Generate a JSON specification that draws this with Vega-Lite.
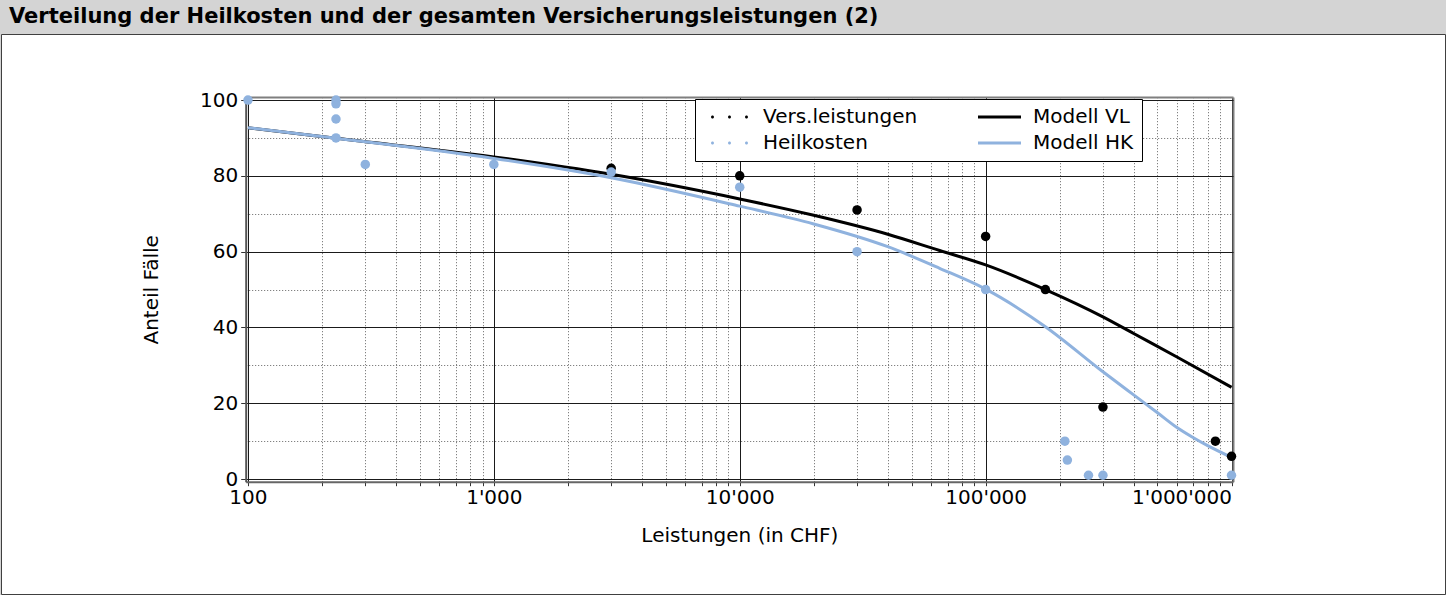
{
  "$schema": "https://vega.github.io/schema/vega-lite/v6.json",
  "width": 1444,
  "height": 560,
  "autosize": "none",
  "padding": {"left": 1, "top": 34, "right": 1, "bottom": 1},
  "background": "#d4d4d4",
  "title": {
    "text": "Verteilung der Heilkosten und der gesamten Versicherungsleistungen (2)",
    "anchor": "start",
    "frame": "group",
    "font": "DejaVu Sans",
    "fontSize": 21,
    "fontWeight": "bold",
    "color": "black",
    "offset": -4,
    "baseline": "middle",
    "dx": 8
  },
  "config": {
    "view": {"fill": "white", "stroke": "#404040", "strokeWidth": 1},
    "font": "DejaVu Sans",
    "axis": {"labelFont": "DejaVu Sans", "titleFont": "DejaVu Sans", "labelColor": "black", "titleColor": "black", "titleFontWeight": "normal"},
    "legend": {"labelFont": "DejaVu Sans"}
  },
  "datasets": {
    "points": [
      {"series": "Vers.leistungen", "x": 3000, "y": 82},
      {"series": "Vers.leistungen", "x": 10000, "y": 80},
      {"series": "Vers.leistungen", "x": 30000, "y": 71},
      {"series": "Vers.leistungen", "x": 100000, "y": 64},
      {"series": "Vers.leistungen", "x": 175000, "y": 50},
      {"series": "Vers.leistungen", "x": 300000, "y": 19},
      {"series": "Vers.leistungen", "x": 860000, "y": 10},
      {"series": "Vers.leistungen", "x": 1000000, "y": 6},
      {"series": "Heilkosten", "x": 100, "y": 100},
      {"series": "Heilkosten", "x": 228, "y": 100},
      {"series": "Heilkosten", "x": 228, "y": 99},
      {"series": "Heilkosten", "x": 228, "y": 95},
      {"series": "Heilkosten", "x": 228, "y": 90},
      {"series": "Heilkosten", "x": 300, "y": 83},
      {"series": "Heilkosten", "x": 1000, "y": 83},
      {"series": "Heilkosten", "x": 3000, "y": 81},
      {"series": "Heilkosten", "x": 10000, "y": 77},
      {"series": "Heilkosten", "x": 30000, "y": 60},
      {"series": "Heilkosten", "x": 100000, "y": 50},
      {"series": "Heilkosten", "x": 210000, "y": 10},
      {"series": "Heilkosten", "x": 215000, "y": 5},
      {"series": "Heilkosten", "x": 262000, "y": 1},
      {"series": "Heilkosten", "x": 300000, "y": 1},
      {"series": "Heilkosten", "x": 1000000, "y": 1}
    ],
    "model": [
      {"series": "Modell VL", "x": 100, "y": 92.7},
      {"series": "Modell VL", "x": 228, "y": 89.9},
      {"series": "Modell VL", "x": 1000, "y": 85.0},
      {"series": "Modell VL", "x": 3000, "y": 80.4},
      {"series": "Modell VL", "x": 10000, "y": 73.9},
      {"series": "Modell VL", "x": 20000, "y": 69.6},
      {"series": "Modell VL", "x": 40000, "y": 64.6},
      {"series": "Modell VL", "x": 65000, "y": 60.3},
      {"series": "Modell VL", "x": 100000, "y": 56.5},
      {"series": "Modell VL", "x": 175000, "y": 50.0},
      {"series": "Modell VL", "x": 300000, "y": 42.8},
      {"series": "Modell VL", "x": 400000, "y": 38.4},
      {"series": "Modell VL", "x": 600000, "y": 32.2},
      {"series": "Modell VL", "x": 1000000, "y": 24.2},
      {"series": "Modell HK", "x": 100, "y": 92.7},
      {"series": "Modell HK", "x": 228, "y": 89.9},
      {"series": "Modell HK", "x": 1000, "y": 84.6},
      {"series": "Modell HK", "x": 3000, "y": 79.5},
      {"series": "Modell HK", "x": 10000, "y": 72.0},
      {"series": "Modell HK", "x": 20000, "y": 67.3},
      {"series": "Modell HK", "x": 40000, "y": 61.3},
      {"series": "Modell HK", "x": 65000, "y": 55.6},
      {"series": "Modell HK", "x": 100000, "y": 50.1},
      {"series": "Modell HK", "x": 175000, "y": 40.2},
      {"series": "Modell HK", "x": 300000, "y": 28.3},
      {"series": "Modell HK", "x": 400000, "y": 22.2},
      {"series": "Modell HK", "x": 500000, "y": 17.5},
      {"series": "Modell HK", "x": 600000, "y": 13.6},
      {"series": "Modell HK", "x": 700000, "y": 10.9},
      {"series": "Modell HK", "x": 800000, "y": 8.8},
      {"series": "Modell HK", "x": 1000000, "y": 5.7}
    ]
  },
  "encoding": {
    "y": {
      "field": "y",
      "type": "quantitative",
      "scale": {"domain": [-0.7, 100.8], "range": [447.7, 63], "nice": false, "zero": false},
      "axis": {
        "title": "Anteil Fälle",
        "orient": "left",
        "offset": -244.7,
        "values": [0, 10, 20, 30, 40, 50, 60, 70, 80, 90, 100, 100.8],
        "labelExpr": "datum.value % 20 == 0 && datum.value <= 100 ? datum.label : ''",
        "labelFontSize": 20,
        "labelPadding": 3,
        "labelOverlap": false,
        "labelFlush": false,
        "labelBound": false,
        "tickSize": 5,
        "tickColor": "#333333",
        "tickOpacity": {"condition": {"test": "datum.value % 20 == 0 && datum.value <= 100", "value": 1}, "value": 0},
        "grid": true,
        "gridDash": {"condition": {"test": "datum.value % 20 == 0 || datum.value > 100", "value": []}, "value": [1, 2]},
        "gridColor": {"condition": [{"test": "datum.value > 100", "value": "#7f7f7f"}, {"test": "datum.value % 20 == 0", "value": "#1a1a1a"}], "value": "#666666"},
        "gridWidth": {"condition": {"test": "datum.value > 100", "value": 2}, "value": 1},
        "domainColor": "#555555",
        "domainWidth": 2,
        "titleFontSize": 20,
        "titlePadding": 38
      }
    },
    "color": {
      "field": "series",
      "type": "nominal",
      "scale": {"domain": ["Vers.leistungen", "Heilkosten", "Modell VL", "Modell HK"], "range": ["#000000", "#8fb2de", "#000000", "#8fb2de"]},
      "legend": {
        "title": null,
        "orient": "none",
        "legendX": 694,
        "legendY": 65,
        "columns": 2,
        "columnPadding": 54,
        "rowPadding": 6,
        "gridAlign": "each",
        "padding": 8,
        "strokeColor": "#000000",
        "fillColor": "#ffffff",
        "cornerRadius": 0,
        "symbolSize": 100,
        "labelOffset": 40,
        "labelFontSize": 20,
        "labelColor": "#000000",
        "labelLimit": 400,
        "encode": {
          "symbols": {
            "update": {
              "shape": {"signal": "indexof(['Modell VL','Modell HK'], datum.value) >= 0 ? 'M-1,0H7.6' : 'M-0.4,0a0.3,0.3 0 1,0 0.6,0a0.3,0.3 0 1,0 -0.6,0M3,0a0.3,0.3 0 1,0 0.6,0a0.3,0.3 0 1,0 -0.6,0M6.4,0a0.3,0.3 0 1,0 0.6,0a0.3,0.3 0 1,0 -0.6,0'"},
              "fill": {"signal": "indexof(['Modell VL','Modell HK'], datum.value) >= 0 ? 'transparent' : scale('color', datum.value)"},
              "stroke": {"signal": "indexof(['Modell VL','Modell HK'], datum.value) >= 0 ? scale('color', datum.value) : 'transparent'"},
              "strokeWidth": {"signal": "indexof(['Modell VL','Modell HK'], datum.value) >= 0 ? 3 : 0"},
              "opacity": {"value": 1}
            }
          }
        }
      }
    }
  },
  "resolve": {"axis": {"x": "independent"}},
  "layer": [
    {
      "data": {"name": "model"},
      "transform": [{"filter": "datum.series == 'Modell VL'"}],
      "mark": {"type": "line", "strokeWidth": 3, "interpolate": "monotone"},
      "encoding": {
        "x": {
          "field": "x",
          "type": "quantitative",
          "scale": {"type": "log", "domain": [97.9, 1014000], "range": [244.7, 1232], "nice": false},
          "axis": {
            "orient": "top",
            "title": null,
            "labels": false,
            "ticks": false,
            "domain": false,
            "values": [100, 200, 300, 400, 500, 600, 700, 800, 900, 1000, 2000, 3000, 4000, 5000, 6000, 7000, 8000, 9000, 10000, 20000, 30000, 40000, 50000, 60000, 70000, 80000, 90000, 100000, 200000, 300000, 400000, 500000, 600000, 700000, 800000, 900000, 1000000, 1014000],
            "grid": true,
            "gridDash": {"condition": {"test": "indexof([100,1000,10000,100000,1000000], datum.value) >= 0 || datum.value > 1000001", "value": []}, "value": [1, 2]},
            "gridColor": {"condition": [{"test": "datum.value > 1000001", "value": "#7f7f7f"}, {"test": "indexof([100,1000,10000,100000,1000000], datum.value) >= 0", "value": "#1a1a1a"}], "value": "#666666"},
            "gridWidth": {"condition": {"test": "datum.value > 1000001", "value": 2}, "value": 1}
          }
        }
      }
    },
    {
      "data": {"name": "model"},
      "transform": [{"filter": "datum.series == 'Modell HK'"}],
      "mark": {"type": "line", "strokeWidth": 3, "interpolate": "monotone"},
      "encoding": {
        "x": {
          "field": "x",
          "type": "quantitative",
          "scale": {"type": "log", "domain": [97.9, 1014000], "range": [244.7, 1232], "nice": false},
          "axis": {
            "title": "Leistungen (in CHF)",
            "orient": "bottom",
            "offset": -112.3,
            "grid": false,
            "values": [100, 200, 300, 400, 500, 600, 700, 800, 900, 1000, 2000, 3000, 4000, 5000, 6000, 7000, 8000, 9000, 10000, 20000, 30000, 40000, 50000, 60000, 70000, 80000, 90000, 100000, 200000, 300000, 400000, 500000, 600000, 700000, 800000, 900000, 1000000],
            "labelExpr": "indexof([100,1000,10000,100000,1000000], datum.value) >= 0 ? replace(replace(format(datum.value, ','), ',', \"'\"), ',', \"'\") : ''",
            "labelAlign": {"condition": {"test": "datum.value == 1000000", "value": "right"}, "value": "center"},
            "labelFontSize": 20,
            "labelPadding": 2,
            "labelOverlap": false,
            "labelFlush": false,
            "labelBound": false,
            "tickSize": 4,
            "tickColor": "#333333",
            "domainColor": "#666666",
            "domainWidth": 2,
            "titleFontSize": 20,
            "titlePadding": 18
          }
        }
      }
    },
    {
      "data": {"name": "points"},
      "transform": [{"filter": "datum.series == 'Vers.leistungen'"}],
      "mark": {"type": "circle", "size": 90, "opacity": 1},
      "encoding": {
        "x": {"field": "x", "type": "quantitative", "scale": {"type": "log", "domain": [97.9, 1014000], "range": [244.7, 1232], "nice": false}, "axis": null}
      }
    },
    {
      "data": {"name": "points"},
      "transform": [{"filter": "datum.series == 'Heilkosten'"}],
      "mark": {"type": "circle", "size": 90, "opacity": 1},
      "encoding": {
        "x": {"field": "x", "type": "quantitative", "scale": {"type": "log", "domain": [97.9, 1014000], "range": [244.7, 1232], "nice": false}, "axis": null}
      }
    }
  ]
}
